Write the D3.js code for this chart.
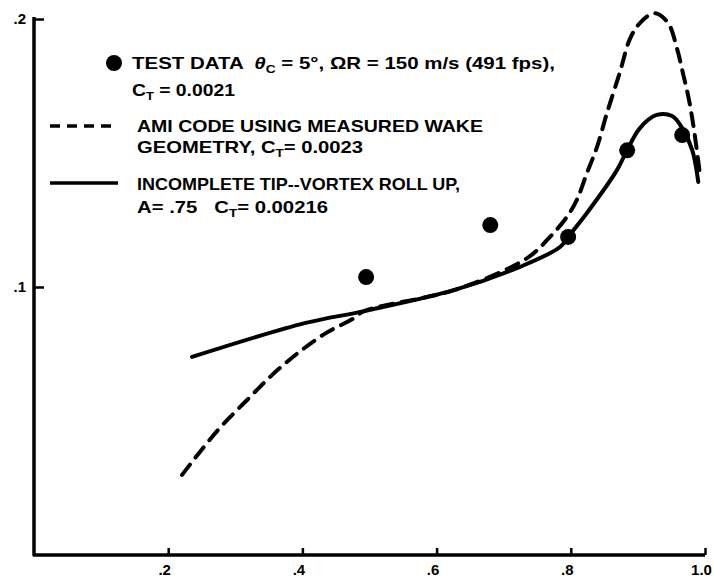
<!DOCTYPE html>
<html>
<head>
<meta charset="utf-8">
<script src="https://cdn.jsdelivr.net/npm/d3@7"></script>
<style>
  body { margin: 0; background: #fff; }
  svg text { font-family: "Liberation Sans", Arial, sans-serif; font-weight: bold; fill: #000; white-space: pre; }
</style>
</head>
<body>
<div id="chart"></div>
<script>
// test data points (r/R, value)
var testX = [0.495, 0.68, 0.796, 0.884, 0.966];
var testY = [0.1037, 0.1231, 0.1187, 0.151, 0.1567];

// AMI code, measured wake geometry (dashed)
var amiX = [0.2206, 0.274, 0.319, 0.355, 0.395, 0.435, 0.475, 0.492, 0.627, 0.735, 0.769, 0.794, 0.809, 0.824, 0.839, 0.854, 0.873, 0.888, 0.903, 0.925, 0.945, 0.958, 0.967, 0.976, 0.984, 0.993];
var amiY = [0.0299, 0.0466, 0.0582, 0.0672, 0.0757, 0.0828, 0.0881, 0.0910, 0.0989, 0.1108, 0.1187, 0.1261, 0.1325, 0.1425, 0.1522, 0.1650, 0.1800, 0.1925, 0.1985, 0.2022, 0.1985, 0.1892, 0.1799, 0.1700, 0.1580, 0.1410];

// incomplete tip-vortex roll up (solid)
var rollX = [0.2355, 0.405, 0.492, 0.627, 0.724, 0.784, 0.796, 0.824, 0.869, 0.884, 0.903, 0.928, 0.951, 0.966, 0.981, 0.990];
var rollY = [0.0739, 0.0866, 0.0910, 0.0989, 0.1075, 0.1149, 0.1187, 0.1276, 0.1437, 0.1511, 0.1593, 0.1642, 0.1638, 0.1593, 0.1511, 0.1392];

var xTicks = [0.2, 0.4, 0.6, 0.8, 1.0];
var xTickLabels = [".2", ".4", ".6", ".8", "1.0"];
var yTicks = [0.1, 0.2];
var yTickLabels = [".1", ".2"];

var W = 714, H = 581;
var margin = {top: 19, right: 9, bottom: 26, left: 34};
var width = W - margin.left - margin.right,
    height = H - margin.top - margin.bottom;

var svg = d3.select("#chart").append("svg")
    .attr("width", W)
    .attr("height", H);
var g = svg.append("g")
    .attr("transform", "translate(" + margin.left + "," + margin.top + ")");

var x = d3.scaleLinear().domain([0, 1]).range([0, width]);
var y = d3.scaleLinear().domain([0, 0.2]).range([height, 0]);

// axes
var xAxis = d3.axisBottom(x)
    .tickValues(xTicks)
    .tickSizeInner(-7)
    .tickSizeOuter(0)
    .tickPadding(9)
    .tickFormat(function(d, i) { return xTickLabels[i]; });
var yAxis = d3.axisLeft(y)
    .tickValues(yTicks)
    .tickSizeInner(-10)
    .tickSizeOuter(0)
    .tickPadding(8)
    .tickFormat(function(d, i) { return yTickLabels[i]; });

var gx = g.append("g")
    .attr("transform", "translate(0," + height + ")")
    .call(xAxis);
var gy = g.append("g").call(yAxis);

[gx, gy].forEach(function(a) {
    a.select(".domain").attr("stroke", "#000").attr("stroke-width", 3.5);
    a.selectAll(".tick line").attr("stroke", "#000").attr("stroke-width", 2.5);
    a.selectAll(".tick text")
        .attr("font-size", 15)
        .attr("font-family", "'Liberation Sans', Arial, sans-serif")
        .attr("font-weight", "bold");
});
gx.selectAll(".tick text").attr("dx", -4);
gx.select(".domain").attr("d", "M-1,0H" + width);
gy.select(".domain").attr("d", "M0," + (height + 1) + "V-2");

// curves
var line = d3.line()
    .x(function(d) { return x(d[0]); })
    .y(function(d) { return y(d[1]); })
    .curve(d3.curveCatmullRom.alpha(0.5));

g.append("path")
    .datum(d3.zip(amiX, amiY))
    .attr("d", line)
    .attr("fill", "none")
    .attr("stroke", "#000")
    .attr("stroke-width", 4)
    .attr("stroke-linecap", "round")
    .attr("stroke-dasharray", "13,9");

g.append("path")
    .datum(d3.zip(rollX, rollY))
    .attr("d", line)
    .attr("fill", "none")
    .attr("stroke", "#000")
    .attr("stroke-width", 4)
    .attr("stroke-linecap", "round");

g.selectAll("circle.dot")
    .data(d3.zip(testX, testY))
    .enter().append("circle")
        .attr("class", "dot")
        .attr("cx", function(d) { return x(d[0]); })
        .attr("cy", function(d) { return y(d[1]); })
        .attr("r", 8)
        .attr("fill", "#000");

// legend
var leg = svg.append("g");
leg.append("circle").attr("cx", 114).attr("cy", 63).attr("r", 8).attr("fill", "#000");
leg.append("line").attr("x1", 50).attr("x2", 118).attr("y1", 126).attr("y2", 126)
    .attr("stroke", "#000").attr("stroke-width", 3.5).attr("stroke-dasharray", "10,7");
leg.append("line").attr("x1", 50).attr("x2", 118).attr("y1", 183).attr("y2", 183)
    .attr("stroke", "#000").attr("stroke-width", 3.5);

function legText(xp, yp, len) {
    return leg.append("text").attr("x", xp).attr("y", yp).attr("font-size", 16.5)
        .attr("textLength", len).attr("lengthAdjust", "spacingAndGlyphs");
}
function sub(t, s) {
    t.append("tspan").attr("font-size", 11).attr("dy", 4).text(s);
    return t;
}

var t1 = legText(132, 69, 423);
t1.append("tspan").text("TEST DATA  ");
t1.append("tspan").attr("font-style", "italic").text("\u03b8");
sub(t1, "C");
t1.append("tspan").attr("dy", -4).text(" = 5\u00b0, \u03a9R = 150 m/s (491 fps),");

var t2 = legText(132, 96, 103);
t2.append("tspan").text("C");
sub(t2, "T");
t2.append("tspan").attr("dy", -4).text(" = 0.0021");

legText(137, 132, 346).text("AMI CODE USING MEASURED WAKE");

var t4 = legText(137, 153, 226);
t4.append("tspan").text("GEOMETRY, C");
sub(t4, "T");
t4.append("tspan").attr("dy", -4).text("= 0.0023");

legText(137, 190, 323).text("INCOMPLETE TIP--VORTEX ROLL UP,");

var t6 = legText(137, 213, 191);
t6.append("tspan").text("A= .75   C");
sub(t6, "T");
t6.append("tspan").attr("dy", -4).text("= 0.00216");
</script>
</body>
</html>
